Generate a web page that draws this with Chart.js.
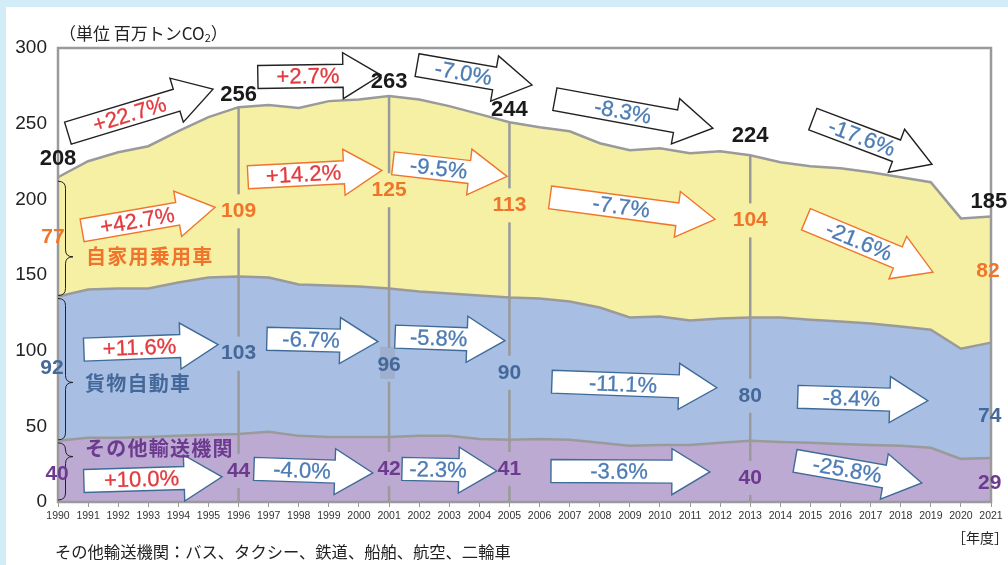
<!DOCTYPE html>
<html>
<head>
<meta charset="utf-8">
<script src="https://cdn.jsdelivr.net/npm/chart.js@4.4.1/dist/chart.umd.min.js"></script>
<style>
  html, body { margin: 0; padding: 0; background: #fff; overflow: hidden; }
  canvas { display: block; }
</style>
</head>
<body>
<canvas id="chart" width="1008" height="565"></canvas>
<script>
// 年度
const years = [1990, 1991, 1992, 1993, 1994, 1995, 1996, 1997, 1998, 1999, 2000,
  2001, 2002, 2003, 2004, 2005, 2006, 2007, 2008, 2009, 2010,
  2011, 2012, 2013, 2014, 2015, 2016, 2017, 2018, 2019, 2020, 2021];

// 百万トンCO2
const otherVals = [40.4, 42.4, 42.4, 43.0, 43.7, 44.4, 45.0, 46.4, 43.7, 43.0, 43.0,
  43.0, 43.7, 43.7, 41.7, 41.1, 41.7, 41.1, 39.1, 37.1, 37.7,
  37.7, 39.1, 40.4, 39.7, 39.1, 38.4, 37.7, 37.1, 35.8, 28.5, 29.1];
const freightVals = [95.4, 98.0, 98.7, 98.1, 101.3, 103.9, 104.0, 101.9, 100.0, 100.0, 99.4,
  98.1, 95.4, 94.0, 94.7, 94.0, 92.7, 91.4, 89.4, 84.8, 84.8,
  82.2, 82.1, 81.5, 82.2, 81.4, 80.8, 80.2, 78.8, 78.1, 72.8, 76.2];
const carVals = [78.8, 84.8, 90.0, 94.0, 100.0, 106.0, 111.9, 114.0, 116.6, 121.9, 123.5,
  127.1, 126.8, 123.9, 119.9, 115.9, 113.3, 112.5, 108.6, 110.6, 111.3,
  110.6, 110.6, 107.2, 102.6, 101.4, 101.3, 100.0, 98.7, 97.4, 86.1, 83.4];

const yTicks = [0, 50, 100, 150, 200, 250, 300];
const markYears = [1996, 2001, 2005, 2013];

// label texts: [year, value position, text]
const totalLabels = [[1990, 226.5, '208'], [1996, 268.9, '256'], [2001, 277.5, '263'],
  [2005, 258.9, '244'], [2013, 241.7, '224'], [2020.93, 198.0, '185']];
const carLabels = [[1989.83, 174.8, '77'], [1996, 192.1, '109'], [2001, 206.0, '125'],
  [2005, 196.0, '113'], [2013, 186.1, '104'], [2020.9, 152.3, '82']];
const freightLabels = [[1989.8, 88.7, '92'], [1996, 98.0, '103'], [2001, 90.7, '96'],
  [2005, 85.4, '90'], [2013, 70.2, '80'], [2020.96, 57.0, '74']];
const otherLabels = [[1989.97, 18.5, '40'], [1996, 20.5, '44'], [2001, 21.9, '42'],
  [2005, 21.9, '41'], [2013, 15.9, '40'], [2020.96, 12.6, '29']];

// change arrows: [from year, from value, to year, to value, text]
const totalArrows = [[1990.33, 243.7, 1995.15, 272.8, '+22.7%'], [1996.64, 280.8, 2000.73, 282.1, '+2.7%'],
  [2001.93, 288.7, 2005.75, 275.5, '-7.0%'], [2006.51, 266.2, 2011.76, 247.0, '-8.3%'],
  [2015.08, 253.0, 2019.04, 223.2, '-17.6%']];
const carArrows = [[1990.8, 179.5, 1995.22, 194.7, '+42.7%'], [1996.31, 214.6, 2000.76, 219.2, '+14.2%'],
  [2001.13, 223.8, 2004.92, 215.2, '-9.5%'], [2006.35, 201.3, 2011.83, 186.8, '-7.7%'],
  [2014.85, 186.8, 2019.07, 151.9, '-21.6%']];
const freightArrows = [[1990.86, 100.7, 1995.32, 104.0, '+11.6%'], [1996.94, 107.9, 2000.63, 106.0, '-6.7%'],
  [2001.2, 109.3, 2004.85, 106.6, '-5.8%'], [2006.41, 79.5, 2011.89, 75.5, '-11.1%'],
  [2014.58, 69.5, 2018.9, 66.9, '-8.4%']];
const otherArrows = [[1990.86, 13.9, 1995.45, 16.6, '+10.0%'], [1996.51, 21.9, 2000.46, 19.2, '-4.0%'],
  [2001.43, 21.9, 2004.58, 20.5, '-2.3%'], [2006.38, 20.5, 2011.66, 19.9, '-3.6%'],
  [2014.49, 27.2, 2018.7, 12.6, '-25.8%']];

const names = [[1990.93, 162.3, '自家用乗用車', '#f0742a'], [1990.9, 78.1, '貨物自動車', '#45689a'],
  [1990.9, 35.1, 'その他輸送機関', '#6c3a8e']];

const NUM = '"Liberation Sans", Arial, sans-serif';
const JP = '"Noto Sans CJK JP", sans-serif';
const RED = '#e23b3f';
const BLUE = '#4d7cb5';

function xAt(chart, yr) {
  const xs = chart.scales.x;
  return xs.getPixelForDecimal((yr - years[0]) / (years.length - 1));
}
function yAt(chart, v) {
  return chart.scales.y.getPixelForValue(v);
}

function drawArrow(ctx, x0, y0, x1, y1, text, stroke) {
  const dx = x1 - x0, dy = y1 - y0;
  const L = Math.hypot(dx, dy), a = Math.atan2(dy, dx);
  const bh = 11.5, hh = 23, hl = 38;
  ctx.save();
  ctx.translate(x0, y0);
  ctx.rotate(a);
  ctx.beginPath();
  ctx.moveTo(0, -bh);
  ctx.lineTo(L - hl, -bh);
  ctx.lineTo(L - hl, -hh);
  ctx.lineTo(L, 0);
  ctx.lineTo(L - hl, hh);
  ctx.lineTo(L - hl, bh);
  ctx.lineTo(0, bh);
  ctx.closePath();
  ctx.fillStyle = '#fff';
  ctx.fill();
  ctx.lineWidth = 1.4;
  ctx.strokeStyle = stroke;
  ctx.stroke();
  const col = text[0] === '+' ? RED : BLUE;
  ctx.font = '22px ' + NUM;
  ctx.textAlign = 'center';
  ctx.textBaseline = 'middle';
  ctx.fillStyle = col;
  ctx.strokeStyle = col;
  ctx.lineWidth = 0.3;
  const tx = (L - 0.6 * hl) / 2;
  ctx.fillText(text, tx, 1);
  ctx.strokeText(text, tx, 1);
  ctx.restore();
}

function drawBrace(ctx, x, y1, y2, ym, w) {
  const r = 7, m = x + w / 2;
  ctx.beginPath();
  ctx.moveTo(x, y1);
  ctx.quadraticCurveTo(m, y1, m, y1 + r);
  ctx.lineTo(m, ym - r);
  ctx.quadraticCurveTo(m, ym, x + w, ym);
  ctx.quadraticCurveTo(m, ym, m, ym + r);
  ctx.lineTo(m, y2 - r);
  ctx.quadraticCurveTo(m, y2, x, y2);
  ctx.stroke();
}

const decor = {
  id: 'decor',
  beforeDraw(chart) {
    const { ctx, width, height } = chart;
    ctx.save();
    ctx.fillStyle = '#d3edf8';
    ctx.fillRect(0, 0, width, height);
    ctx.fillStyle = '#fff';
    ctx.fillRect(6, 7, width - 6, height - 7);
    ctx.restore();
  },
  afterDatasetsDraw(chart) {
    const { ctx, chartArea: ca } = chart;
    ctx.save();
    // vertical marker lines, broken around the labels
    ctx.strokeStyle = '#9a9a9a';
    ctx.lineWidth = 2.5;
    markYears.forEach((yr) => {
      const i = years.indexOf(yr);
      const x = xAt(chart, yr);
      const top = yAt(chart, otherVals[i] + freightVals[i] + carVals[i]);
      const gaps = [...carLabels, ...freightLabels, ...otherLabels]
        .filter((l) => Math.round(l[0]) === yr)
        .map((l) => yAt(chart, l[1]))
        .sort((a, b) => a - b);
      let y = top;
      gaps.forEach((g) => {
        ctx.beginPath();
        ctx.moveTo(x, y);
        ctx.lineTo(x, g - 17);
        ctx.stroke();
        y = g + 17;
      });
      ctx.beginPath();
      ctx.moveTo(x, y);
      ctx.lineTo(x, ca.bottom);
      ctx.stroke();
    });
    // frame
    ctx.lineWidth = 2.5;
    ctx.strokeRect(ca.left, ca.top, ca.right - ca.left, ca.bottom - ca.top);

    // braces at 1990
    ctx.strokeStyle = '#222';
    ctx.lineWidth = 1;
    const x0 = xAt(chart, 1990);
    const o = otherVals[0], f = o + freightVals[0], t = f + carVals[0];
    drawBrace(ctx, x0, yAt(chart, t) + 4, yAt(chart, f) - 1, yAt(chart, 162), 15);
    drawBrace(ctx, x0, yAt(chart, f) + 2, yAt(chart, o) - 1, yAt(chart, 79), 15);
    drawBrace(ctx, x0, yAt(chart, o) + 2, yAt(chart, 0) - 2, yAt(chart, 30), 15);

    // arrows
    const groups = [[totalArrows, '#222'], [carArrows, '#f0742a'],
      [freightArrows, '#3f6b99'], [otherArrows, '#3f6b99']];
    groups.forEach(([list, stroke]) => {
      list.forEach((a) => {
        drawArrow(ctx, xAt(chart, a[0]), yAt(chart, a[1]), xAt(chart, a[2]), yAt(chart, a[3]), a[4], stroke);
      });
    });

    // odd grey patch behind "96"
    ctx.fillStyle = 'rgba(140,150,165,0.35)';
    ctx.fillRect(xAt(chart, 2001) - 9, yAt(chart, 102.5), 15, 32);

    // value labels
    ctx.textAlign = 'center';
    ctx.textBaseline = 'middle';
    const lab = [[totalLabels, '#1a1a1a', 22], [carLabels, '#f0742a', 21],
      [freightLabels, '#45689a', 21], [otherLabels, '#6c3a8e', 21]];
    lab.forEach(([list, col, size]) => {
      ctx.font = 'bold ' + size + 'px ' + NUM;
      ctx.fillStyle = col;
      list.forEach((l) => ctx.fillText(l[2], xAt(chart, l[0]), yAt(chart, l[1])));
    });

    // segment names
    ctx.textAlign = 'left';
    ctx.font = 'bold 20px ' + JP;
    names.forEach((n) => {
      ctx.fillStyle = n[3];
      ctx.save();
      ctx.translate(xAt(chart, n[0]), yAt(chart, n[1]));
      ctx.fillText(n[2].split('').join(String.fromCharCode(8202)), 0, 0);
      ctx.restore();
    });
    ctx.restore();
  },
  afterDraw(chart) {
    const { ctx } = chart;
    ctx.save();
    ctx.fillStyle = '#222';
    ctx.textBaseline = 'middle';
    ctx.textAlign = 'left';
    ctx.font = '17px ' + JP;
    const s = '（単位 百万トンCO';
    ctx.fillText(s, 59, 34);
    const w = ctx.measureText(s).width;
    ctx.font = '11px ' + JP;
    ctx.fillText('2', 59 + w, 38);
    const w2 = ctx.measureText('2').width;
    ctx.font = '17px ' + JP;
    ctx.fillText('）', 59 + w + w2, 34);

    ctx.font = '16.3px ' + JP;
    ctx.fillText('その他輸送機関：バス、タクシー、鉄道、船舶、航空、二輪車', 55, 552);

    ctx.textAlign = 'right';
    ctx.font = '14px ' + JP;
    ctx.fillText('［年度］', 1008, 538);
    ctx.restore();
  },
};

new Chart(document.getElementById('chart').getContext('2d'), {
  type: 'line',
  data: {
    labels: years.map(String),
    datasets: [
      { label: 'その他輸送機関', data: otherVals, backgroundColor: '#bcaad3', fill: 'origin' },
      { label: '貨物自動車', data: freightVals, backgroundColor: '#a8bfe3', fill: '-1' },
      { label: '自家用乗用車', data: carVals, backgroundColor: '#f5f0a4', fill: '-1' },
    ].map((d) => Object.assign(d, {
      borderColor: '#9a9a9a',
      borderWidth: 2.5,
      pointRadius: 0,
      tension: 0,
      clip: false,
    })),
  },
  options: {
    responsive: false,
    animation: false,
    layout: { padding: { left: 0, right: 17, top: 48, bottom: 43 } },
    plugins: { legend: { display: false }, tooltip: { enabled: false } },
    scales: {
      x: {
        offset: false,
        grid: { drawOnChartArea: false, drawTicks: true, tickLength: 5, color: '#9a9a9a', lineWidth: 1 },
        border: { display: false },
        ticks: {
          autoSkip: false, maxRotation: 0, padding: 3,
          color: '#333', font: { family: 'Liberation Sans', size: 10.5 },
        },
        afterFit: (s) => { s.height = 20; },
      },
      y: {
        stacked: true,
        min: 0,
        max: 300,
        grid: { display: false, drawTicks: false },
        border: { display: false },
        ticks: { padding: 11, color: '#222', font: { family: 'Liberation Sans', size: 19 } },
        afterBuildTicks: (s) => { s.ticks = yTicks.map((v) => ({ value: v })); },
        afterFit: (s) => { s.width = 58; },
      },
    },
  },
  plugins: [decor],
});
</script>
</body>
</html>
